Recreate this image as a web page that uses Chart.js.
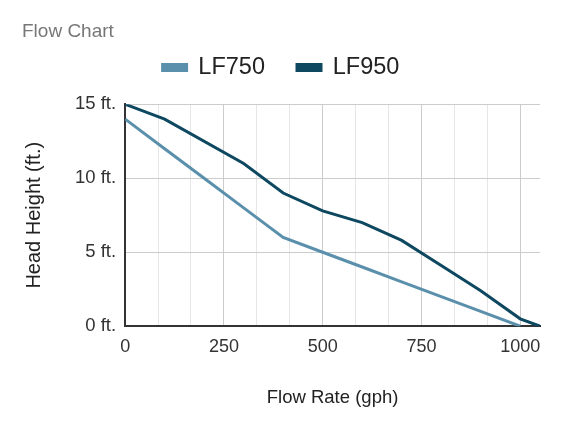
<!DOCTYPE html>
<html>
<head>
<meta charset="utf-8">
<script src="https://cdn.jsdelivr.net/npm/chart.js@4.4.1/dist/chart.umd.min.js"></script>
<style>
  html, body { margin: 0; padding: 0; background: #fff; }
  #wrap { width: 562px; height: 428px; }
</style>
</head>
<body>
<div id="wrap"><canvas id="flowChart"></canvas></div>
<script>
    // flow rate (gph) -> head height (ft.)
    const lf750Flow = [0, 100, 200, 300, 400, 500, 600, 700, 800, 900, 1000];
    const lf750Head = [14, 12, 10, 8, 6, 5, 4, 3, 2, 1, 0];
    const lf950Flow = [0, 100, 300, 400, 500, 600, 700, 800, 900, 1000, 1050];
    const lf950Head = [15, 14, 11, 9, 7.8, 7, 5.8, 4.1, 2.4, 0.5, 0];

    const xTicks = [0, 250, 500, 750, 1000];
    const yTicks = [0, 5, 10, 15];

    const font = "'Liberation Sans', Arial, sans-serif";

    // major lines at labelled ticks, two minor lines between each
    const xGrid = [];
    xTicks.forEach((t, i) => {
        xGrid.push(t);
        if (i < xTicks.length - 1) {
            const step = (xTicks[i + 1] - t) / 3;
            xGrid.push(t + step, t + 2 * step);
        }
    });

    const isMajor = v => Math.abs(v - Math.round(v)) < 1e-6 && xTicks.includes(Math.round(v));
    const toPoints = (xs, ys) => xs.map((x, i) => ({ x: x, y: ys[i] }));

    // extra room under the legend
    const legendGap = {
        id: "legendGap",
        beforeInit(chart) {
            const fit = chart.legend.fit;
            chart.legend.fit = function () {
                fit.bind(chart.legend)();
                this.height += 15;
            };
        }
    };

    new Chart(document.getElementById("flowChart"), {
        type: "line",
        data: {
            datasets: [{
                label: "LF750",
                data: toPoints(lf750Flow, lf750Head),
                borderColor: "#5a90ab",
                backgroundColor: "#5a90ab",
                borderWidth: 3,
                pointRadius: 0,
                tension: 0
            }, {
                label: "LF950",
                data: toPoints(lf950Flow, lf950Head),
                borderColor: "#0d4860",
                backgroundColor: "#0d4860",
                borderWidth: 3,
                pointRadius: 0,
                tension: 0
            }]
        },
        options: {
            responsive: true,
            maintainAspectRatio: false,
            animation: false,
            layout: { padding: { left: 22, right: 22, bottom: 19 } },
            plugins: {
                title: {
                    display: true,
                    text: "Flow Chart",
                    align: "start",
                    color: "#777",
                    font: { family: font, size: 19, weight: "normal" },
                    padding: { top: 20, bottom: -19 }
                },
                legend: {
                    position: "top",
                    labels: {
                        color: "#222",
                        font: { family: font, size: 23.5 },
                        boxWidth: 24,
                        boxHeight: 6,
                        padding: 32
                    }
                },
                tooltip: { enabled: false }
            },
            scales: {
                x: {
                    type: "linear",
                    min: 0,
                    max: 1050,
                    afterBuildTicks: axis => {
                        axis.ticks = xGrid.map(v => ({ value: v }));
                    },
                    ticks: {
                        color: "#333",
                        font: { family: font, size: 18 },
                        padding: 10,
                        maxRotation: 0,
                        autoSkip: false,
                        callback: v => isMajor(v) ? String(Math.round(v)) : ""
                    },
                    grid: {
                        drawTicks: false,
                        lineWidth: 1,
                        color: ctx => isMajor(ctx.tick ? ctx.tick.value : 0) ? "#cccccc" : "#e6e6e6"
                    },
                    border: { color: "#333", width: 2 },
                    title: {
                        display: true,
                        text: "Flow Rate (gph)",
                        color: "#222",
                        font: { family: font, size: 18.5 },
                        padding: { top: 19, bottom: 0 }
                    }
                },
                y: {
                    min: 0,
                    max: 15,
                    afterBuildTicks: axis => {
                        axis.ticks = yTicks.map(v => ({ value: v }));
                    },
                    ticks: {
                        color: "#333",
                        font: { family: font, size: 18.5 },
                        padding: 9,
                        callback: v => v + " ft."
                    },
                    grid: {
                        drawTicks: false,
                        color: "#cccccc",
                        lineWidth: 1
                    },
                    border: { color: "#333", width: 2 },
                    title: {
                        display: true,
                        text: "Head Height (ft.)",
                        color: "#222",
                        font: { family: font, size: 20 },
                        padding: { top: 0, bottom: 20 }
                    }
                }
            }
        },
        plugins: [legendGap]
    });
</script>
</body>
</html>
